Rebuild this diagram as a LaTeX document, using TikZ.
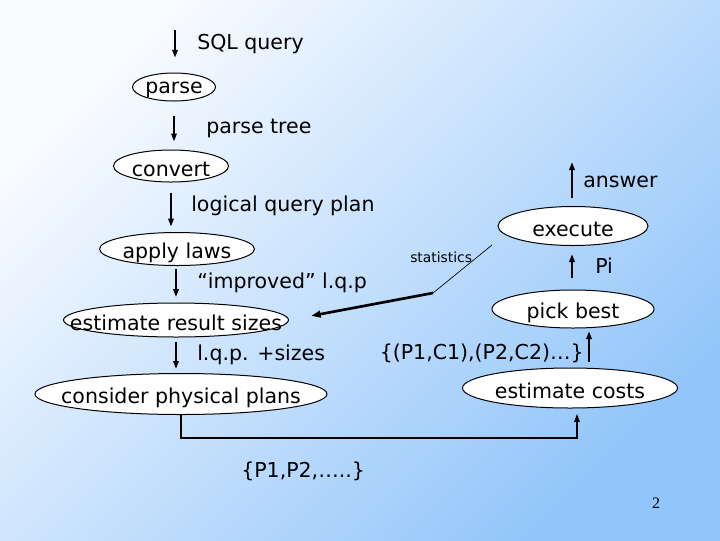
\documentclass[tikz,border=0pt]{standalone}
\usepackage{fontspec}
\setmainfont{DejaVu Sans}
\newfontfamily\slidenum{Liberation Serif}
\usetikzlibrary{arrows.meta,shapes.geometric}
\definecolor{bgtop}{RGB}{248,251,255}
\definecolor{bgbot}{RGB}{146,197,250}

\begin{document}
\begin{tikzpicture}[x=0.75pt, y=-0.75pt,
		stage/.style n args={3}{draw, ellipse, fill=white, line width=0.75pt, inner sep=0pt,
			minimum width=#1*0.75pt, minimum height=#2*0.75pt,
			label={[font=\fontsize{15.4}{18}\selectfont, yshift=-2.5pt]center:#3}},
		flow/.style={line width=1.5pt, -{Triangle[length=6pt,width=4pt]}},
		tag/.style={anchor=west, inner sep=0pt, font=\fontsize{15.4}{18}\selectfont}]
		%%%%% BACKGROUND %%%%%
		\shade[top color=bgtop, bottom color=bgbot, shading angle=45] (0,0) rectangle (720,540);
		\useasboundingbox (0,0) rectangle (720,540);
		
		%%%%% LEFT COLUMN %%%%%
		\node[stage={83}{28}{parse}] (parse) at (174,87) {};
		\node[stage={115}{32}{convert}] (convert) at (171,166) {};
		\node[stage={155}{33}{apply laws}] (apply) at (177,249) {};
		\node[stage={225}{34}{estimate result sizes}] (est) at (176,320) {};
		\node[stage={292}{41}{consider physical plans}] (consider) at (181,394) {};
		
		\coordinate (sqlin) at (175,30);
		\draw[flow, shorten >=11pt] (sqlin) -- (sqlin |- parse.north);
		\draw[flow, shorten <=11pt, shorten >=6pt] (parse.south) -- (parse.south |- convert.north);
		\draw[flow, shorten <=8pt, shorten >=4pt] (convert.south) -- (convert.south |- apply.north);
		\draw[flow, shorten <=2pt, shorten >=4pt] (apply.south -| est.north) -- (est.north);
		\draw[flow, shorten <=3pt, shorten >=3pt] (est.south) -- (est.south |- consider.north);
		
		\node[tag] (sqltxt) at (197,44) {SQL query};
		\node[tag] (treetxt) at (206,128) {parse tree};
		\node[tag] (lqptxt) at (191,206) {logical query plan};
		\node[tag] (imptxt) at (197,283) {“improved” l.q.p};
		\node[tag] (sizetxt) at (197,355) {l.q.p. +sizes};
		
		%%%%% RIGHT COLUMN %%%%%
		\node[stage={150}{39}{execute}] (execute) at (573,226) {};
		\node[stage={162}{38}{pick best}] (pick) at (573,309) {};
		\node[stage={215}{40}{estimate costs}] (costs) at (570,388) {};
		
		\coordinate (ansout) at (572,162);
		\draw[flow, shorten <=6pt] (ansout |- execute.north) -- (ansout);
		\draw[flow, shorten <=9pt, shorten >=6pt] (pick.north -| ansout) -- (ansout |- execute.south);
		\coordinate (costup) at (589,362);
		\draw[flow, shorten >=2pt] (costup) -- (costup |- pick.south);
		
		\node[tag] (anstxt) at (583,182) {answer};
		\node[tag] (pitxt) at (595,266) {Pi};
		\node[tag, anchor=east] (costtxt) at (584,353) {\{(P1,C1),(P2,C2)…\}};
		
		%%%%% FEEDBACK %%%%%
		\coordinate (turn) at (577,438);
		\draw[line width=1pt, -{Triangle[length=6pt,width=4pt]}, shorten >=4pt]
			(consider.south) |- (turn) -- (turn |- costs.south);
		\node[tag] (plantxt) at (241,471) {\{P1,P2,…..\}};
		
		%%%%% STATISTICS %%%%%
		\coordinate (statfrom) at (492,245);
		\coordinate (statbend) at (433,293);
		\draw[line width=0.5pt] (statfrom) -- (statbend);
		\draw[line width=2pt, -{Triangle[length=7pt,width=5pt]}, shorten >=17pt] (statbend) -- (est.east);
		\node[tag, font=\fontsize{10.4}{12}\selectfont] (stattxt) at (410,257) {statistics};
		
		\node[inner sep=0pt, font=\slidenum\fontsize{12}{14}\selectfont] (pagenum) at (656,503) {2};
	\end{tikzpicture}
\end{document}
